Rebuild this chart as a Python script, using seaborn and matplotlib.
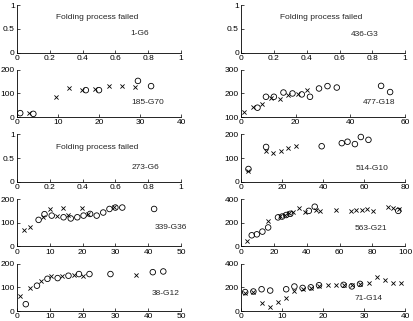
import matplotlib
matplotlib.use('Agg')
import matplotlib.pyplot as plt
import seaborn as sns

# panel names, in reading order (row by row, left then right)
names = ['1-G6', '436-G3', '185-G70', '477-G18', '273-G6',
         '514-G10', '339-G36', '563-G21', '38-G12', '71-G14']
failed = ['1-G6', '436-G3', '273-G6']

x_limits = {'185-G70': (0, 40), '477-G18': (0, 60), '514-G10': (0, 80),
            '339-G36': (0, 50), '563-G21': (0, 100), '38-G12': (0, 50),
            '71-G14': (0, 40)}
y_limits = {'185-G70': (0, 200), '477-G18': (100, 300), '514-G10': (0, 200),
            '339-G36': (0, 200), '563-G21': (0, 400), '38-G12': (0, 200),
            '71-G14': (0, 400)}
x_ticks = {'185-G70': [0, 10, 20, 30, 40], '477-G18': [0, 20, 40, 60],
           '514-G10': [0, 20, 40, 60, 80], '339-G36': [0, 10, 20, 30, 40, 50],
           '563-G21': [0, 20, 40, 60, 80, 100], '38-G12': [0, 10, 20, 30, 40, 50],
           '71-G14': [0, 10, 20, 30, 40]}
y_ticks = {'185-G70': [0, 100, 200], '477-G18': [100, 200, 300],
           '514-G10': [0, 100, 200], '339-G36': [0, 100, 200],
           '563-G21': [0, 200, 400], '38-G12': [0, 100, 200],
           '71-G14': [0, 200, 400]}

# circles
circ_185_x = [0.8, 4.0, 16.8, 20.0, 29.5, 32.7]
circ_185_y = [17, 14, 114, 114, 153, 131]
circ_477_x = [6.0, 9.1, 12.0, 15.5, 18.8, 22.2, 25.2, 28.5, 31.6, 35.0, 51.2, 54.5]
circ_477_y = [140, 186, 186, 204, 200, 196, 186, 221, 231, 225, 232, 206]
circ_514_x = [3.6, 12.2, 39.3, 49.1, 51.9, 55.5, 58.4, 62.1]
circ_514_y = [54, 147, 150, 163, 169, 159, 189, 177]
circ_339_x = [6.6, 8.4, 10.6, 14.2, 16.4, 18.4, 20.3, 22.3, 24.3, 26.3, 28.2, 30.0, 32.1, 41.8]
circ_339_y = [112, 136, 130, 123, 118, 123, 130, 137, 130, 143, 158, 164, 164, 158]
circ_563_x = [6.5, 9.6, 13.0, 16.5, 22.5, 25.0, 27.5, 30.0, 41.3, 44.9, 95.8]
circ_563_y = [94, 102, 125, 160, 245, 252, 265, 275, 300, 335, 300]
circ_38_x = [2.7, 6.1, 9.3, 12.4, 15.7, 18.9, 22.1, 28.5, 41.4, 44.6]
circ_38_y = [29, 107, 136, 139, 149, 156, 156, 156, 164, 167]
circ_71_x = [1.0, 3.0, 5.0, 7.1, 11.0, 13.0, 15.0, 17.0, 19.0, 25.0, 27.0, 29.0]
circ_71_y = [160, 165, 184, 173, 184, 207, 195, 200, 218, 221, 208, 229]

# crosses
cross_185_x = [3.0, 9.5, 12.7, 15.8, 19.0, 22.4, 25.6, 28.9]
cross_185_y = [17, 83, 121, 114, 118, 132, 132, 128]
cross_477_x = [1.2, 4.5, 7.8, 10.8, 14.3, 17.1, 20.7, 24.0]
cross_477_y = [121, 144, 156, 179, 178, 192, 196, 214]
cross_514_x = [3.6, 12.0, 15.8, 19.5, 23.1, 26.8]
cross_514_y = [45, 132, 122, 132, 141, 152]
cross_339_x = [2.1, 4.1, 7.9, 10.1, 12.2, 13.9, 15.7, 19.8, 21.7, 29.5]
cross_339_y = [70, 81, 124, 157, 130, 161, 133, 164, 137, 165]
cross_563_x = [3.5, 16.7, 24.0, 26.5, 29.0, 31.5, 35.3, 38.7, 45.7, 48.3, 58.0,
               67.3, 70.3, 73.8, 76.8, 80.2, 89.8, 92.6, 96.0]
cross_563_y = [45, 215, 258, 265, 278, 288, 320, 290, 305, 300, 305,
               300, 305, 305, 315, 300, 335, 320, 315]
cross_38_x = [0.9, 4.0, 7.3, 10.5, 13.8, 17.3, 20.2, 36.4]
cross_38_y = [64, 99, 127, 149, 149, 153, 149, 153]
cross_71_x = [1.0, 3.0, 5.0, 7.1, 8.9, 11.0, 13.0, 15.0, 17.0, 19.0, 21.1, 23.1,
              25.0, 27.0, 29.0, 31.1, 33.1, 35.1, 37.0, 38.9]
cross_71_y = [152, 160, 71, 37, 79, 108, 173, 190, 198, 215, 221, 221,
              221, 222, 229, 240, 291, 263, 240, 240]

circles = {'185-G70': (circ_185_x, circ_185_y), '477-G18': (circ_477_x, circ_477_y),
           '514-G10': (circ_514_x, circ_514_y), '339-G36': (circ_339_x, circ_339_y),
           '563-G21': (circ_563_x, circ_563_y), '38-G12': (circ_38_x, circ_38_y),
           '71-G14': (circ_71_x, circ_71_y)}
crosses = {'185-G70': (cross_185_x, cross_185_y), '477-G18': (cross_477_x, cross_477_y),
           '514-G10': (cross_514_x, cross_514_y), '339-G36': (cross_339_x, cross_339_y),
           '563-G21': (cross_563_x, cross_563_y), '38-G12': (cross_38_x, cross_38_y),
           '71-G14': (cross_71_x, cross_71_y)}

# where the panel name sits (axes fraction)
label_pos = {'1-G6': (0.69, 0.40), '436-G3': (0.67, 0.38), '185-G70': (0.70, 0.31),
             '477-G18': (0.74, 0.31), '273-G6': (0.70, 0.31), '514-G10': (0.70, 0.27),
             '339-G36': (0.84, 0.40), '563-G21': (0.69, 0.37), '38-G12': (0.82, 0.38),
             '71-G14': (0.69, 0.27)}

sns.set_style('white')
plt.rcParams['font.family'] = ['Liberation Sans', 'DejaVu Sans']
plt.rcParams['font.size'] = 6

fig, axes = plt.subplots(5, 2, figsize=(4.13, 3.21), dpi=100)
fig.subplots_adjust(left=0.041, right=0.981, top=0.984, bottom=0.031,
                    wspace=0.366, hspace=0.363)

for ax, name in zip(axes.flat, names):
    if name in failed:
        ax.set_xlim(0, 1)
        ax.set_ylim(0, 1)
        ax.set_xticks([0, 0.2, 0.4, 0.6, 0.8, 1])
        ax.set_xticklabels(['0', '0.2', '0.4', '0.6', '0.8', '1'])
        ax.set_yticks([0, 0.5, 1])
        ax.set_yticklabels(['0', '0.5', '1'])
        ax.text(0.24, 0.73, 'Folding process failed', transform=ax.transAxes,
                va='center', ha='left', fontsize=6)
    else:
        cx, cy = circles[name]
        xx, xy = crosses[name]
        sns.scatterplot(x=cx, y=cy, ax=ax, marker='o', s=16, facecolor='none',
                        edgecolor='black', linewidth=0.6, clip_on=False, zorder=3)
        sns.scatterplot(x=xx, y=xy, ax=ax, marker='x', s=9, color='black',
                        linewidth=0.6, clip_on=False, zorder=3)
        ax.set_xlim(*x_limits[name])
        ax.set_ylim(*y_limits[name])
        ax.set_xticks(x_ticks[name])
        ax.set_yticks(y_ticks[name])
    lx, ly = label_pos[name]
    ax.text(lx, ly, name, transform=ax.transAxes, va='center', ha='left',
            fontsize=6, clip_on=False)
    sns.despine(ax=ax)
    for side in ['left', 'bottom']:
        ax.spines[side].set_linewidth(0.6)
        ax.spines[side].set_color('black')
    ax.tick_params(direction='in', length=2, width=0.5, pad=1.5,
                   labelsize=6, colors='black', bottom=True, left=True)

fig.savefig('out.png', dpi=100)
